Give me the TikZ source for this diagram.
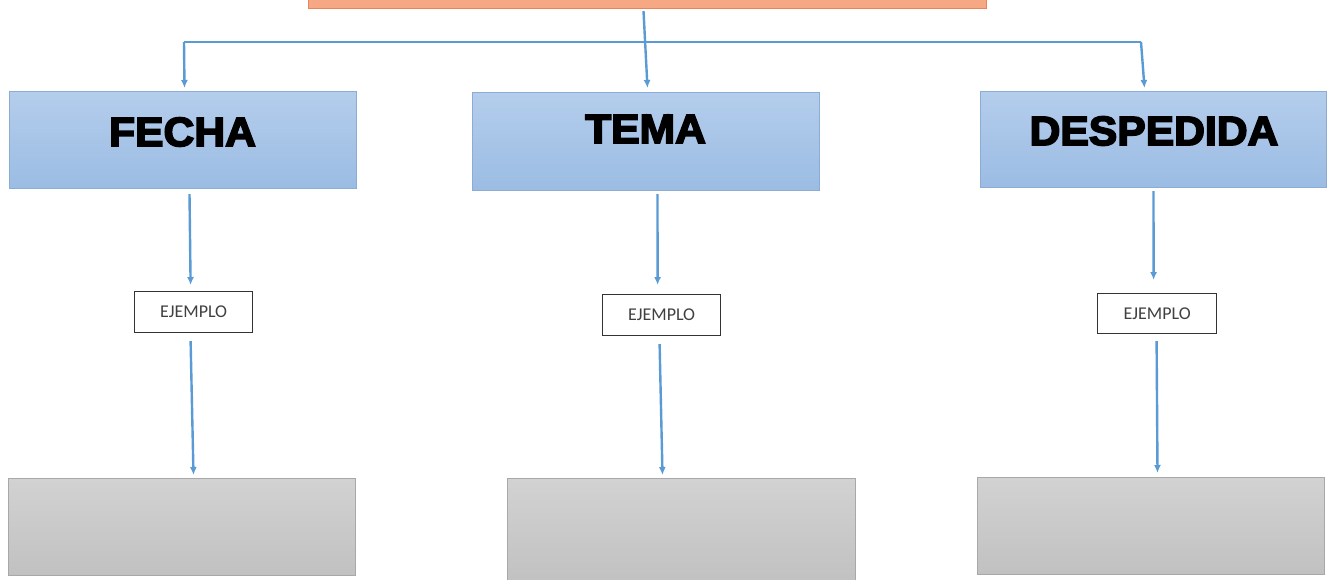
\documentclass[tikz,border=0pt]{standalone}
\usepackage{fontspec}
\setmainfont{Liberation Sans}
\newfontfamily\headfont[FakeBold=4,FakeStretch=1.04]{Liberation Sans Bold}
\newfontfamily\smallfont{Carlito}
\usetikzlibrary{arrows.meta}
\definecolor{arrowblue}{RGB}{91,155,213}
\definecolor{bluetop}{RGB}{180,205,236}
\definecolor{bluebot}{RGB}{155,188,227}
\definecolor{blueedge}{RGB}{140,172,212}
\definecolor{graytop}{RGB}{210,210,210}
\definecolor{graybot}{RGB}{193,193,193}
\definecolor{grayedge}{RGB}{168,168,168}
\definecolor{orangefill}{RGB}{246,168,132}
\definecolor{orangeedge}{RGB}{232,132,92}
\begin{document}
\begin{tikzpicture}[x=1pt,y=-1pt,
  bluebox/.style={draw=blueedge, line width=1pt, top color=bluetop, bottom color=bluebot, anchor=north west, inner sep=0pt},
  graybox/.style={draw=grayedge, line width=1pt, top color=graytop, bottom color=graybot, anchor=north west, inner sep=0pt},
  exbox/.style={draw=black!80, line width=1.2pt, fill=white, anchor=north west, inner sep=0pt, font=\smallfont\fontsize{18}{18}\selectfont, text=black!75},
  headtext/.style={font=\headfont\fontsize{41}{41}\selectfont, text=black},
  link/.style={draw=arrowblue, line width=2.4pt},
  arr/.style={link, -{Latex[length=8pt,width=7pt]}}
]
\useasboundingbox (0,0) rectangle (1333,579);
\clip (0,0) rectangle (1333,579);
\fill[white] (0,0) rectangle (1333,579);

% top orange box
\node[draw=orangeedge, line width=1pt, fill=orangefill, anchor=south west, minimum width=678pt, minimum height=40pt, inner sep=0pt] (head) at (308,9) {};

% blue boxes
\node[bluebox, minimum width=347pt, minimum height=97pt] (fecha) at (9,91) {};
\node[bluebox, minimum width=347pt, minimum height=98pt] (tema) at (472,92) {};
\node[bluebox, minimum width=346pt, minimum height=96pt] (desp) at (980,91) {};
\node[headtext] (tfecha) at (182.5,132) {FECHA};
\node[headtext] (ttema) at (645.5,129) {TEMA};
\node[headtext] (tdesp) at (1154,131) {DESPEDIDA};

% ejemplo boxes
\node[exbox, minimum width=118pt, minimum height=41pt] (ej1) at (134,291) {EJEMPLO};
\node[exbox, minimum width=118pt, minimum height=41pt] (ej2) at (602,294) {EJEMPLO};
\node[exbox, minimum width=119pt, minimum height=40pt] (ej3) at (1097,293) {EJEMPLO};

% gray boxes
\node[graybox, minimum width=347pt, minimum height=97pt] (g1) at (8,478) {};
\node[graybox, minimum width=348pt, minimum height=104pt] (g2) at (507,478) {};
\node[graybox, minimum width=347pt, minimum height=97pt] (g3) at (977,477) {};

% top connectors
\coordinate (bl) at (184,42);
\coordinate (br) at (1141,42);
\draw[arr] ([xshift=-4pt,yshift=-2pt]head.south) -- ([xshift=1.5pt,yshift=4pt]tema.north);
\draw[link] (bl) -- (br);
\draw[arr] (bl) -- ([xshift=1.5pt,yshift=3pt]fecha.north);
\draw[arr] (br) -- ([xshift=-9pt,yshift=3pt]desp.north);

% lower connectors
\draw[arr] ([xshift=6.5pt,yshift=-5pt]fecha.south) -- ([xshift=-3pt,yshift=6pt]ej1.north);
\draw[arr] ([xshift=-3pt,yshift=-8pt]ej1.south) -- ([xshift=11.5pt,yshift=3pt]g1.north);
\draw[arr] ([xshift=11.5pt,yshift=-3pt]tema.south) -- ([xshift=-4pt,yshift=9pt]ej2.north);
\draw[arr] ([xshift=-2pt,yshift=-8pt]ej2.south) -- ([xshift=-19pt,yshift=3pt]g2.north);
\draw[arr] ([xshift=0pt,yshift=-3pt]desp.south) -- ([xshift=-3.5pt,yshift=13pt]ej3.north);
\draw[arr] ([xshift=-0.5pt,yshift=-7pt]ej3.south) -- ([xshift=6.5pt,yshift=4pt]g3.north);
\end{tikzpicture}
\end{document}
